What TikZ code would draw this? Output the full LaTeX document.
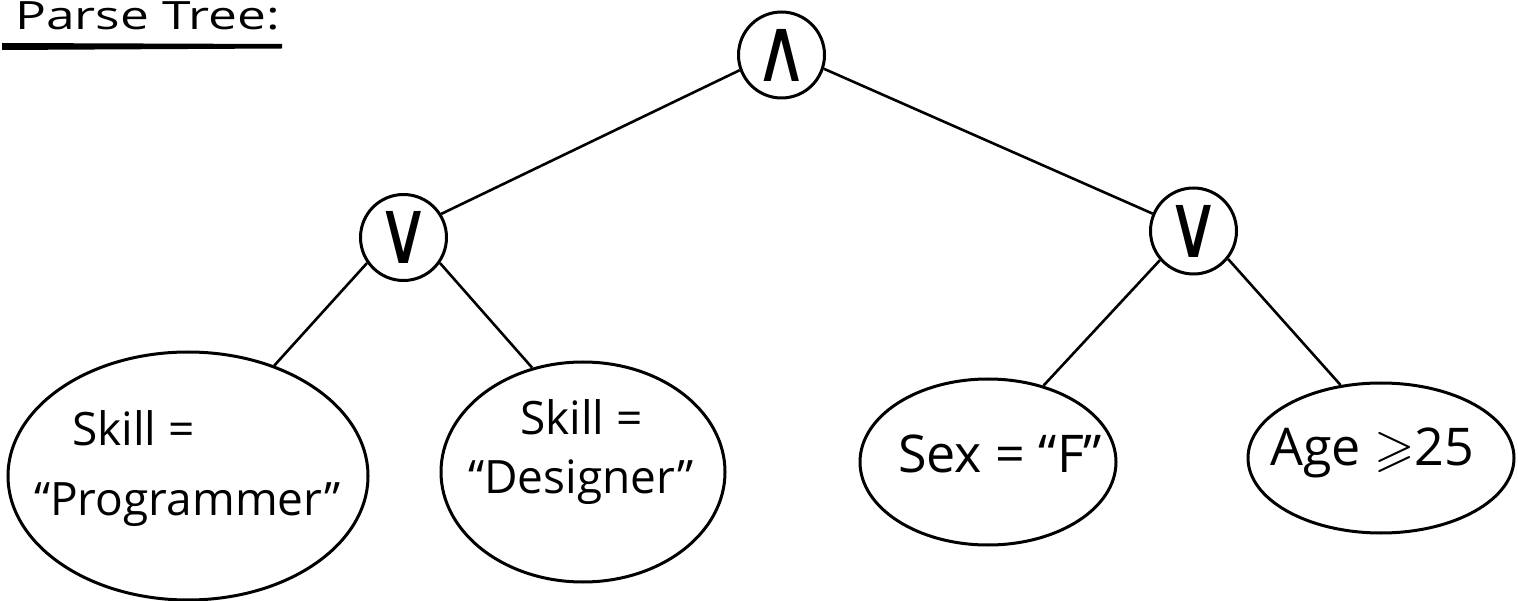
\documentclass[tikz,border=0pt]{standalone}
\usepackage{amssymb}
\usepackage{graphicx}
\usepackage{fontspec}
\setmainfont{Open Sans}
\newfontfamily\symfont{DejaVu Sans}
\usetikzlibrary{shapes.geometric}
\begin{document}
\begin{tikzpicture}[x=1pt,y=-1pt,
  opnode/.style={circle,draw,line width=3pt,minimum size=86pt,inner sep=0pt,font=\symfont\fontsize{62}{62}\selectfont},
  leaf/.style={ellipse,draw,line width=3pt,inner sep=0pt},
  edge/.style={line width=2.6pt},
  lbl/.style={anchor=base west,inner sep=0pt,font=\fontsize{46}{52}\selectfont},
  biglbl/.style={anchor=base west,inner sep=0pt,font=\fontsize{52}{60}\selectfont}
]
\useasboundingbox (0,0) rectangle (1518,601);

% title
\node[anchor=base west,inner sep=0pt,font=\fontsize{39}{44}\selectfont,xscale=1.32,transform shape] (title) at (15,29.5) {Parse Tree:};
\fill (2,43) -- (282,44) -- (282,48.5) -- (2,50) -- cycle;

% operator nodes
\node[opnode] (root) at (781.5,55) {\scalebox{1.2}[1.45]{∧}};
\node[opnode] (lv) at (403.5,237.5) {\scalebox{1.2}[1.45]{∨}};
\node[opnode] (rv) at (1193.5,231) {\scalebox{1.2}[1.45]{∨}};

% leaves
\node[leaf,minimum width=360pt,minimum height=248pt] (l1) at (188,476) {};
\node[leaf,minimum width=284pt,minimum height=220pt] (l2) at (583,472) {};
\node[leaf,minimum width=256pt,minimum height=166pt] (l3) at (988,462) {};
\node[leaf,minimum width=266pt,minimum height=150pt] (l4) at (1381,458) {};

% labels
\node[lbl] (l1a) at (72,445) {Skill =};
\node[lbl] (l1b) at (34,515) {“Programmer”};
\node[lbl] (l2a) at (520,435) {Skill =};
\node[lbl] (l2b) at (468,493) {“Designer”};
\node[biglbl] (l3a) at (898,472) {Sex = “F”};
\node[biglbl] (l4a) at (1270,465) {Age $\geqslant$25};

% edges
\draw[edge] (root.200) -- (lv.32.5);
\draw[edge] (root.342.6) -- (rv.157.8);
\draw[edge] (lv.215.5) -- (l1.52);
\draw[edge] (lv.325) -- (l2.116);
\draw[edge] (rv.221) -- (l3.54.5);
\draw[edge] (rv.321) -- (l4.119);
\end{tikzpicture}
\end{document}
